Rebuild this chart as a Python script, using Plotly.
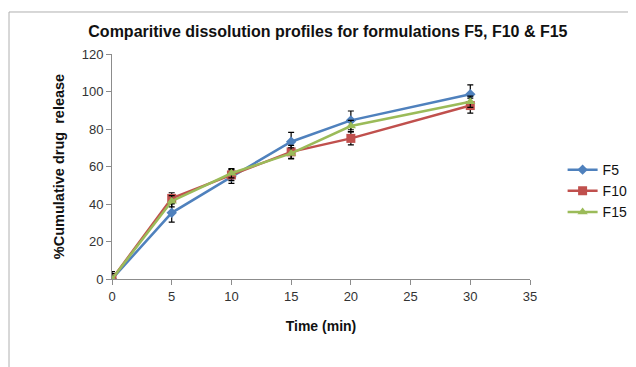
import plotly.graph_objects as go

time_min = [0, 5, 10, 15, 20, 30]
f5 = [0, 35.3, 54.5, 73.2, 84.6, 98.5]
f10 = [0, 43.0, 55.5, 67.8, 75.0, 92.5]
f15 = [0, 41.5, 56.4, 67.0, 81.6, 94.5]
f5_err = [4, 5, 3.5, 5, 5, 5]
f10_err = [3, 3, 3, 3.5, 3.5, 4]
f15_err = [2, 3, 2.5, 3, 3, 3]

series = [
    ("F5", f5, f5_err, "#4F81BD", "diamond", 8),
    ("F10", f10, f10_err, "#C0504D", "square", 9),
    ("F15", f15, f15_err, "#9BBB59", "triangle-up", 9),
]

FONT = "Liberation Sans, Arial"

fig = go.Figure()
for name, vals, err, col, sym, sz in series:
    fig.add_trace(go.Scatter(
        x=time_min, y=vals, name=name, mode="lines+markers",
        line=dict(color=col, width=2.5),
        marker=dict(symbol=sym, size=sz, color=col),
        error_y=dict(type="data", array=err, visible=True, color="black",
                     thickness=1.2, width=3),
    ))

axis_common = dict(
    showline=True, linecolor="#8c8c8c", linewidth=1, ticks="outside",
    tickcolor="#8c8c8c", ticklen=5, showgrid=False, zeroline=False,
    automargin=False,
    tickfont=dict(family=FONT, size=13, color="#333333"),
)

fig.update_layout(
    width=636, height=367,
    paper_bgcolor="white", plot_bgcolor="white",
    margin=dict(l=104, r=114, t=46, b=96, autoexpand=False),
    title=dict(text="<b>Comparitive dissolution profiles for formulations F5, F10 &amp; F15</b>",
               x=0.503, xanchor="center", y=0.937, yanchor="middle",
               font=dict(family=FONT, size=16, color="#111111")),
    xaxis=dict(range=[0, 35], dtick=5,
               title=dict(text="<b>Time (min)</b>", standoff=18,
                          font=dict(family=FONT, size=14, color="#111111")),
               **axis_common),
    yaxis=dict(range=[0, 120], dtick=20,
               title=dict(text="<b>%Cumulative drug  release</b>", standoff=13,
                          font=dict(family=FONT, size=14.5, color="#111111")),
               **axis_common),
    legend=dict(x=1.078, y=0.391, xanchor="left", yanchor="middle",
                font=dict(family=FONT, size=14, color="#111111"),
                bgcolor="rgba(0,0,0,0)", itemwidth=30),
    showlegend=True,
)

fig.add_shape(type="line", xref="paper", yref="paper", x0=-0.2464, x1=-0.2464,
              y0=1.1867, y1=-0.45, line=dict(color="#b0b0b0", width=1))
fig.add_shape(type="line", xref="paper", yref="paper", x0=-0.2464, x1=1.30,
              y0=1.1867, y1=1.1867, line=dict(color="#b0b0b0", width=1))

fig.write_html("out.html")
